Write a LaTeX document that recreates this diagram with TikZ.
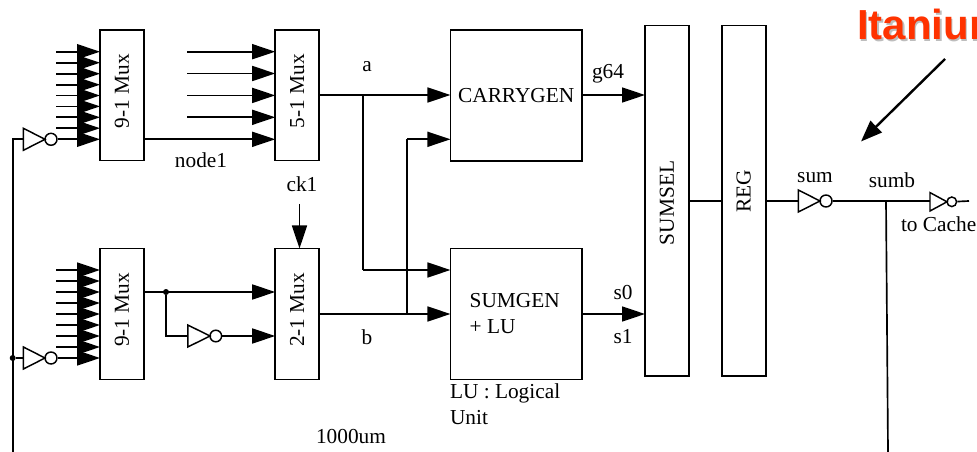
\documentclass[tikz,border=0pt]{standalone}
\usepackage{fontspec}
\setmainfont{Liberation Serif}
\newfontfamily\headfont{Liberation Sans}
\usetikzlibrary{arrows.meta,calc}
\definecolor{itred}{HTML}{FF3300}
\definecolor{itshadow}{HTML}{BDBDBD}
\tikzset{
  x=0.75pt,y=-0.75pt,
  wire/.style={line width=1.25pt,line cap=butt,line join=miter},
  arr/.style={wire,-{Triangle[length=17.25pt,width=11.25pt]}},
  box/.style={draw,line width=1.25pt,inner sep=0pt,outer sep=0pt,font=\fontsize{16}{19.5}\selectfont},
  vbox/.style={box,rotate=90,minimum width=#1*0.75pt,minimum height=33pt},
  hbox/.style={box,minimum width=98.6pt,minimum height=98.2pt},
  lbl/.style={inner sep=0pt,outer sep=0pt,font=\fontsize{16}{19.5}\selectfont,anchor=base},
  lbll/.style={lbl,anchor=base west},
  dotn/.style={circle,fill=black,draw=none,inner sep=0pt,minimum size=#1*0.75pt},
  bub/.style={circle,draw,line width=1.1pt,inner sep=0pt,minimum size=#1*1.5pt},
  head/.style={inner sep=0pt,outer sep=0pt,anchor=base west,font=\headfont\bfseries\fontsize{31.5}{36}\selectfont}
}
% name, x, y, width, half height, bubble radius
\newcommand\invgate[6]{%
  \coordinate (#1-in) at (#2,#3);
  \draw[line width=1.1pt,line join=miter] ({#2},{#3-#5}) -- ({#2+#4},{#3}) -- ({#2},{#3+#5}) -- cycle;
  \node[bub=#6] (#1-out) at ({#2+#4+#6},#3) {};
}
\begin{document}
\begin{tikzpicture}
\clip (0,0) rectangle (977,452);
\fill[white] (0,0) rectangle (977,452);

% boxes
\node[vbox=130.5] (muxa) at (122,95.2) {\hspace*{6.3pt}9-1 Mux};
\node[vbox=130.5] (muxb) at (297.2,95.2) {\hspace*{6.3pt}5-1 Mux};
\node[vbox=131] (muxc) at (122,314) {\hspace*{6.3pt}9-1 Mux};
\node[vbox=131] (muxd) at (297.2,314) {\hspace*{6.3pt}2-1 Mux};
\node[hbox] (carry) at (516.2,95.5) {CARRYGEN};
\node[hbox,align=left] (sumgen) at (516.2,314) {SUMGEN\hspace*{2.2pt}\\+ LU};
\node[vbox=350.5] (sumsel) at (667,200.7) {SUMSEL\hspace*{3.4pt}};
\node[vbox=350.5] (reg) at (743.7,200.7) {\hspace*{14.5pt}REG};

% inverters
\invgate{inva}{23.4}{139.3}{21.6}{11}{6}
\invgate{invb}{23.4}{358}{21.6}{11}{6}
\invgate{invc}{187.8}{336}{22.2}{11}{5.8}
\invgate{invd}{798.3}{201}{21.7}{11}{6}
\invgate{inve}{930}{201.8}{17}{9.2}{4.8}

% free ends
\coordinate (leftend) at (12.7,452);
\coordinate (cktop) at (299.5,204);
\coordinate (sumbend) at (888,452);
\coordinate (cacheend) at (969,201);
\coordinate (itfrom) at (945,59);
\coordinate (itto) at (861,141.5);

% junctions
\node[dotn=6] (dotl) at (12.7,358) {};
\node[dotn=6] (dotm) at (166,292) {};
\coordinate (ja) at (363,95);
\coordinate (jb) at (407,314);
\coordinate (js) at (886,201);

% 9-1 mux inputs, top
\foreach \y in {51.7,62.7,73.7,84.7,95.5,106.4,117.3,128.2}
  \draw[arr] (56,\y) -- (muxa.north |- 0,\y);
\draw[arr] (inva-out) -- (muxa.north |- inva-out);
% 5-1 mux inputs
\foreach \y in {51.7,73.5,95.4,117.3}
  \draw[arr] (187,\y) -- (muxb.north |- 0,\y);
\draw[arr] (muxa.south |- 0,139.3) -- (muxb.north |- 0,139.3);
% 9-1 mux inputs, bottom
\foreach \y in {270,281,292,303,314,325,336,347}
  \draw[arr] (56,\y) -- (muxc.north |- 0,\y);
\draw[arr] (invb-out) -- (muxc.north |- invb-out);
% left clock line
\draw[wire] (inva-in) -| (leftend);
\draw[wire] (dotl) -- (invb-in);
% 2-1 mux inputs
\draw[arr] (muxc.south |- dotm) -- (muxd.north |- dotm);
\draw[wire] (dotm) |- (invc-in);
\draw[arr] (invc-out) -- (muxd.north |- invc-out);
\draw[arr] (cktop) -- (cktop |- muxd.east);
% a and b
\draw[arr] (muxb.south |- ja) -- (carry.west |- ja);
\draw[wire] (ja) -- (ja |- 0,270);
\draw[arr] (ja |- 0,270) -- (sumgen.west |- 0,270);
\draw[arr] (muxd.south |- jb) -- (sumgen.west |- jb);
\draw[wire] (jb) -- (jb |- 0,139.3);
\draw[arr] (jb |- 0,139.3) -- (carry.west |- 0,139.3);
% outputs
\draw[arr] (carry.east |- ja) -- (sumsel.north |- ja);
\draw[arr] (sumgen.east |- jb) -- (sumsel.north |- jb);
\draw[wire] (sumsel.south |- invd-in) -- (reg.north |- invd-in);
\draw[wire] (reg.south |- invd-in) -- (invd-in);
\draw[wire] (invd-out) -- (inve-in |- invd-out);
\draw[wire] (js) -- (sumbend);
\draw[wire] (inve-out) -- (cacheend);

% labels
\node[lbl] (lnode) at (201,167.7) {node1};
\node[lbl] (lck) at (302,192) {ck1};
\node[lbl] (la) at (367,71.7) {a};
\node[lbl] (lb) at (367,344) {b};
\node[lbl] (lg) at (608,79) {g64};
\node[lbl] (ls0) at (623,299) {s0};
\node[lbl] (ls1) at (623,343) {s1};
\node[lbll] (llu) at (450,398) {LU : Logical};
\node[lbll] (lunit) at (450,424) {Unit};
\node[lbl] (lum) at (351,443) {1000um};
\node[lbl] (lsum) at (815,182.7) {sum};
\node[lbl] (lsumb) at (892,188) {sumb};
\node[lbll] (lcache) at (901,232) {to Cache};

% Itanium callout
\node[head,text=itshadow] (itsh) at (858.5,41.5) {Itanium};
\node[head,text=itred] (it) at (857,40) {Itanium};
\draw[line width=1.8pt,-{Triangle[length=16pt,width=12pt]}] (itfrom) -- (itto);
\end{tikzpicture}
\end{document}
